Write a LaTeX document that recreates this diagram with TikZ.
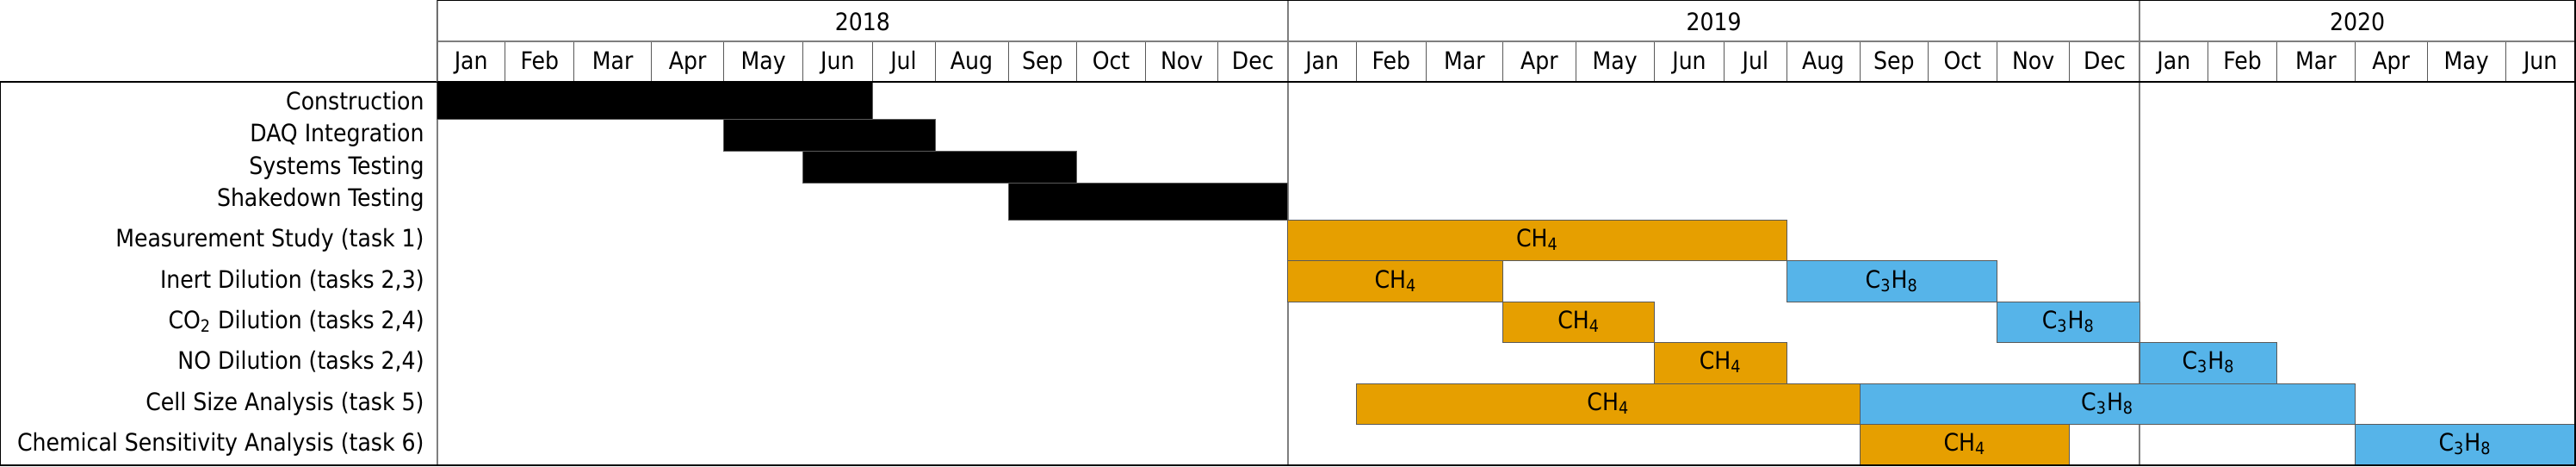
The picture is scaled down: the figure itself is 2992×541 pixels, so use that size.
\documentclass[tikz,border=0pt]{standalone}
\usepackage{fontspec}
\setmainfont{DejaVu Sans Condensed}
\usetikzlibrary{calc}
\definecolor{chfill}{HTML}{E69F00}
\definecolor{cpfill}{HTML}{56B4E9}
\definecolor{gridgray}{HTML}{7F7F7F}
\definecolor{barline}{HTML}{5A5A5A}
\begin{document}
\begin{tikzpicture}[x=0.5pt,y=-0.5pt,
  txt/.style={font=\fontsize{14}{16}\selectfont, inner sep=0pt, text=black},
  lbl/.style={txt, anchor=base east},
  ctr/.style={txt, anchor=base},
  outer/.style={draw=black, line width=1pt},
  yearline/.style={draw=gridgray, line width=1pt},
  monthline/.style={draw=gridgray!70!black, line width=0.5pt},
  barbox/.style={draw=barline, line width=0.5pt},
  blk/.style={barbox, fill=black},
  chb/.style={barbox, fill=chfill},
  cpb/.style={barbox, fill=cpfill}]
\useasboundingbox (0,0) rectangle (2992,541);
\fill[white] (0,0) rectangle (2992,541);
% month boundaries
\foreach \i/\xx in {0/507.7,1/586.7,2/666.8,3/756.6,4/840.8,5/932.7,6/1013,7/1086,8/1171,9/1250.5,10/1330.6,11/1414.8,12/1495.9,13/1575.5,14/1656,15/1745.9,16/1830,17/1921.4,18/2002.6,19/2075,20/2160.2,21/2239.3,22/2319.4,23/2403.7,24/2485.3,25/2564.3,26/2644.7,27/2735.1,28/2819,29/2910.3,30/2991}
  \coordinate (m\i) at (\xx,0);
% row boundaries
\foreach \i/\yy in {0/94.9,1/138,2/175.3,3/212.2,4/255.3,5/302.6,6/350.2,7/397.5,8/445,9/492.7,10/540}
  \coordinate (r\i) at (0,\yy);
% month separators in header
\foreach \i in {1,...,11,13,14,...,23,25,26,...,29}
  \draw[monthline] (m\i |- 0,47.6) -- (m\i |- r0);
% chart/label divider
\draw[yearline] (m0) -- (m0 |- r10);
% year / month divider
\draw[yearline] (m0 |- 0,47.6) -- (m30 |- 0,47.6);
% year lines
\draw[yearline] (m12) -- (m12 |- r10);
\draw[yearline] (m24) -- (m24 |- r10);
\newcommand\barlabel[5]{%
  \node[ctr] (#5) at ($(m#1)!0.5!(m#2)+(0,#3)$) {#4};}
% black construction bars
\draw[blk] (m0 |- r0) rectangle (m6 |- r1);
\draw[blk] (m4 |- r1) rectangle (m7 |- r2);
\draw[blk] (m5 |- r2) rectangle (m9 |- r3);
\draw[blk] (m8 |- r3) rectangle (m12 |- r4);
% Measurement study
\draw[chb] (m12 |- r4) rectangle (m19 |- r5);
\barlabel{12}{19}{286}{CH\textsubscript{4}}{ms1}
% Inert dilution
\draw[chb] (m12 |- r5) rectangle (m15 |- r6);
\barlabel{12}{15}{334}{CH\textsubscript{4}}{id1}
\draw[cpb] (m19 |- r5) rectangle (m22 |- r6);
\barlabel{19}{22}{334}{C\textsubscript{3}H\textsubscript{8}}{id2}
% CO2 dilution
\draw[chb] (m15 |- r6) rectangle (m17 |- r7);
\barlabel{15}{17}{381}{CH\textsubscript{4}}{cd1}
\draw[cpb] (m22 |- r6) rectangle (m24 |- r7);
\barlabel{22}{24}{381}{C\textsubscript{3}H\textsubscript{8}}{cd2}
% NO dilution
\draw[chb] (m17 |- r7) rectangle (m19 |- r8);
\barlabel{17}{19}{428}{CH\textsubscript{4}}{nd1}
\draw[cpb] (m24 |- r7) rectangle (m26 |- r8);
\barlabel{24}{26}{428}{C\textsubscript{3}H\textsubscript{8}}{nd2}
% Cell size
\draw[chb] (m13 |- r8) rectangle (m20 |- r9);
\barlabel{13}{20}{476}{CH\textsubscript{4}}{cs1}
\draw[cpb] (m20 |- r8) rectangle (m27 |- r9);
\barlabel{20}{27}{476}{C\textsubscript{3}H\textsubscript{8}}{cs2}
% Chemical sensitivity
\draw[chb] (m20 |- r9) rectangle (m23 |- r10);
\barlabel{20}{23}{523}{CH\textsubscript{4}}{cc1}
\draw[cpb] (m27 |- r9) rectangle (m30 |- r10);
\barlabel{27}{30}{523}{C\textsubscript{3}H\textsubscript{8}}{cc2}
% outer frame
\draw[outer] (m0) -- (m30) -- (m30 |- r10) -- (0,540) -- (r0) -- (m30 |- r0);
\draw[monthline] (m0) -- (m0 |- r0);
% years
\node[ctr] (y2018) at ($(m0)!0.5!(m12)+(0,35)$) {2018};
\node[ctr] (y2019) at ($(m12)!0.5!(m24)+(0,35)$) {2019};
\node[ctr] (y2020) at ($(m24)!0.5!(m30)+(0,35)$) {2020};
% months
\foreach \i/\name in {0/Jan,1/Feb,2/Mar,3/Apr,4/May,5/Jun,6/Jul,7/Aug,8/Sep,9/Oct,10/Nov,11/Dec,12/Jan,13/Feb,14/Mar,15/Apr,16/May,17/Jun,18/Jul,19/Aug,20/Sep,21/Oct,22/Nov,23/Dec,24/Jan,25/Feb,26/Mar,27/Apr,28/May,29/Jun}{
  \pgfmathtruncatemacro\j{\i+1}
  \node[ctr] (mon\i) at ($(m\i)!0.5!(m\j)+(0,80)$) {\name};
}
% task labels
\node[lbl] (t1) at (493,127) {Construction};
\node[lbl] (t2) at (493,164) {DAQ Integration};
\node[lbl] (t3) at (493,202) {Systems Testing};
\node[lbl] (t4) at (493,239) {Shakedown Testing};
\node[lbl] (t5) at (493,286) {Measurement Study (task 1)};
\node[lbl] (t6) at (493,334) {Inert Dilution (tasks 2,3)};
\node[lbl] (t7) at (493,381) {CO\textsubscript{2} Dilution (tasks 2,4)};
\node[lbl] (t8) at (493,428) {NO Dilution (tasks 2,4)};
\node[lbl] (t9) at (493,476) {Cell Size Analysis (task 5)};
\node[lbl] (t10) at (493,523) {Chemical Sensitivity Analysis (task 6)};
\end{tikzpicture}
\end{document}
